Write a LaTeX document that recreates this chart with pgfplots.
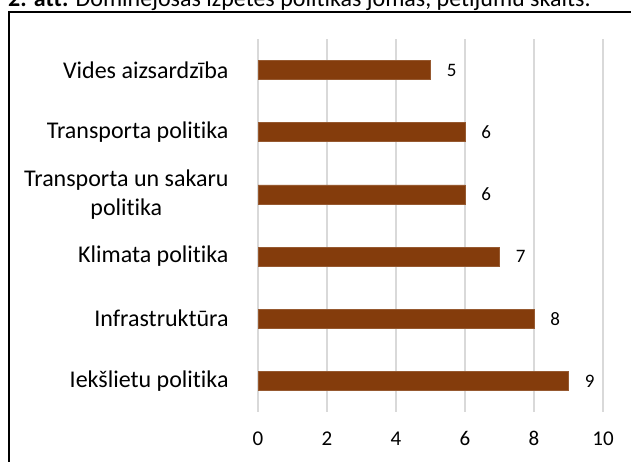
\documentclass[border=0pt]{standalone}
\usepackage{pgfplots}
\pgfplotsset{compat=1.18}
\usepackage{fontspec}
\setmainfont[RawFeature={-liga;-clig;-dlig}]{Carlito}
\definecolor{barc}{RGB}{132,60,12}
\definecolor{gridc}{RGB}{217,217,217}
\begin{document}
\begin{tikzpicture}[x=1pt,y=1pt]
\useasboundingbox (0,0) rectangle (631,462);
\clip (0,0) rectangle (631,462);
\begin{axis}[
  at={(258pt,50pt)}, anchor=south west,
  scale only axis, width=345pt, height=373pt,
  xbar, bar width=19pt,
  xmin=0, xmax=10, ymin=-0.5, ymax=5.5,
  xtick={0,2,...,10}, ytick={0,...,5},
  yticklabels={Iekšlietu politika, Infrastruktūra, Klimata politika, {Transporta un sakaru\\politika}, Transporta politika, Vides aizsardzība},
  axis line style={draw=none}, major tick style={draw=none},
  xmajorgrids, grid style={gridc, line width=1.3pt},
  /pgf/number format/assume math mode=true,
  xticklabel style={font=\fontsize{21}{25}\selectfont, yshift=-16pt},
  yticklabel style={font=\fontsize{24}{29}\selectfont, align=center, anchor=east, inner sep=0pt, xshift=-25pt},
  nodes near coords,
  nodes near coords style={font=\fontsize{19}{23}\selectfont, anchor=west, inner sep=0pt, xshift=16pt, black},
  clip=false,
]
\addplot[fill=barc, draw=barc!85!white, line width=0.5pt] coordinates {(9,0) (8,1) (7,2) (6,3) (6,4) (5,5)};
\end{axis}
\draw[line width=2pt] (8.5,-10) -- (8.5,450) -- (640,450);
\node[anchor=base west, inner sep=0pt, font=\fontsize{24}{29}\selectfont] at (8,455) {\textbf{2. att.} Dominējošās izpētes politikas jomas, pētījumu skaits.};
\end{tikzpicture}
\end{document}
